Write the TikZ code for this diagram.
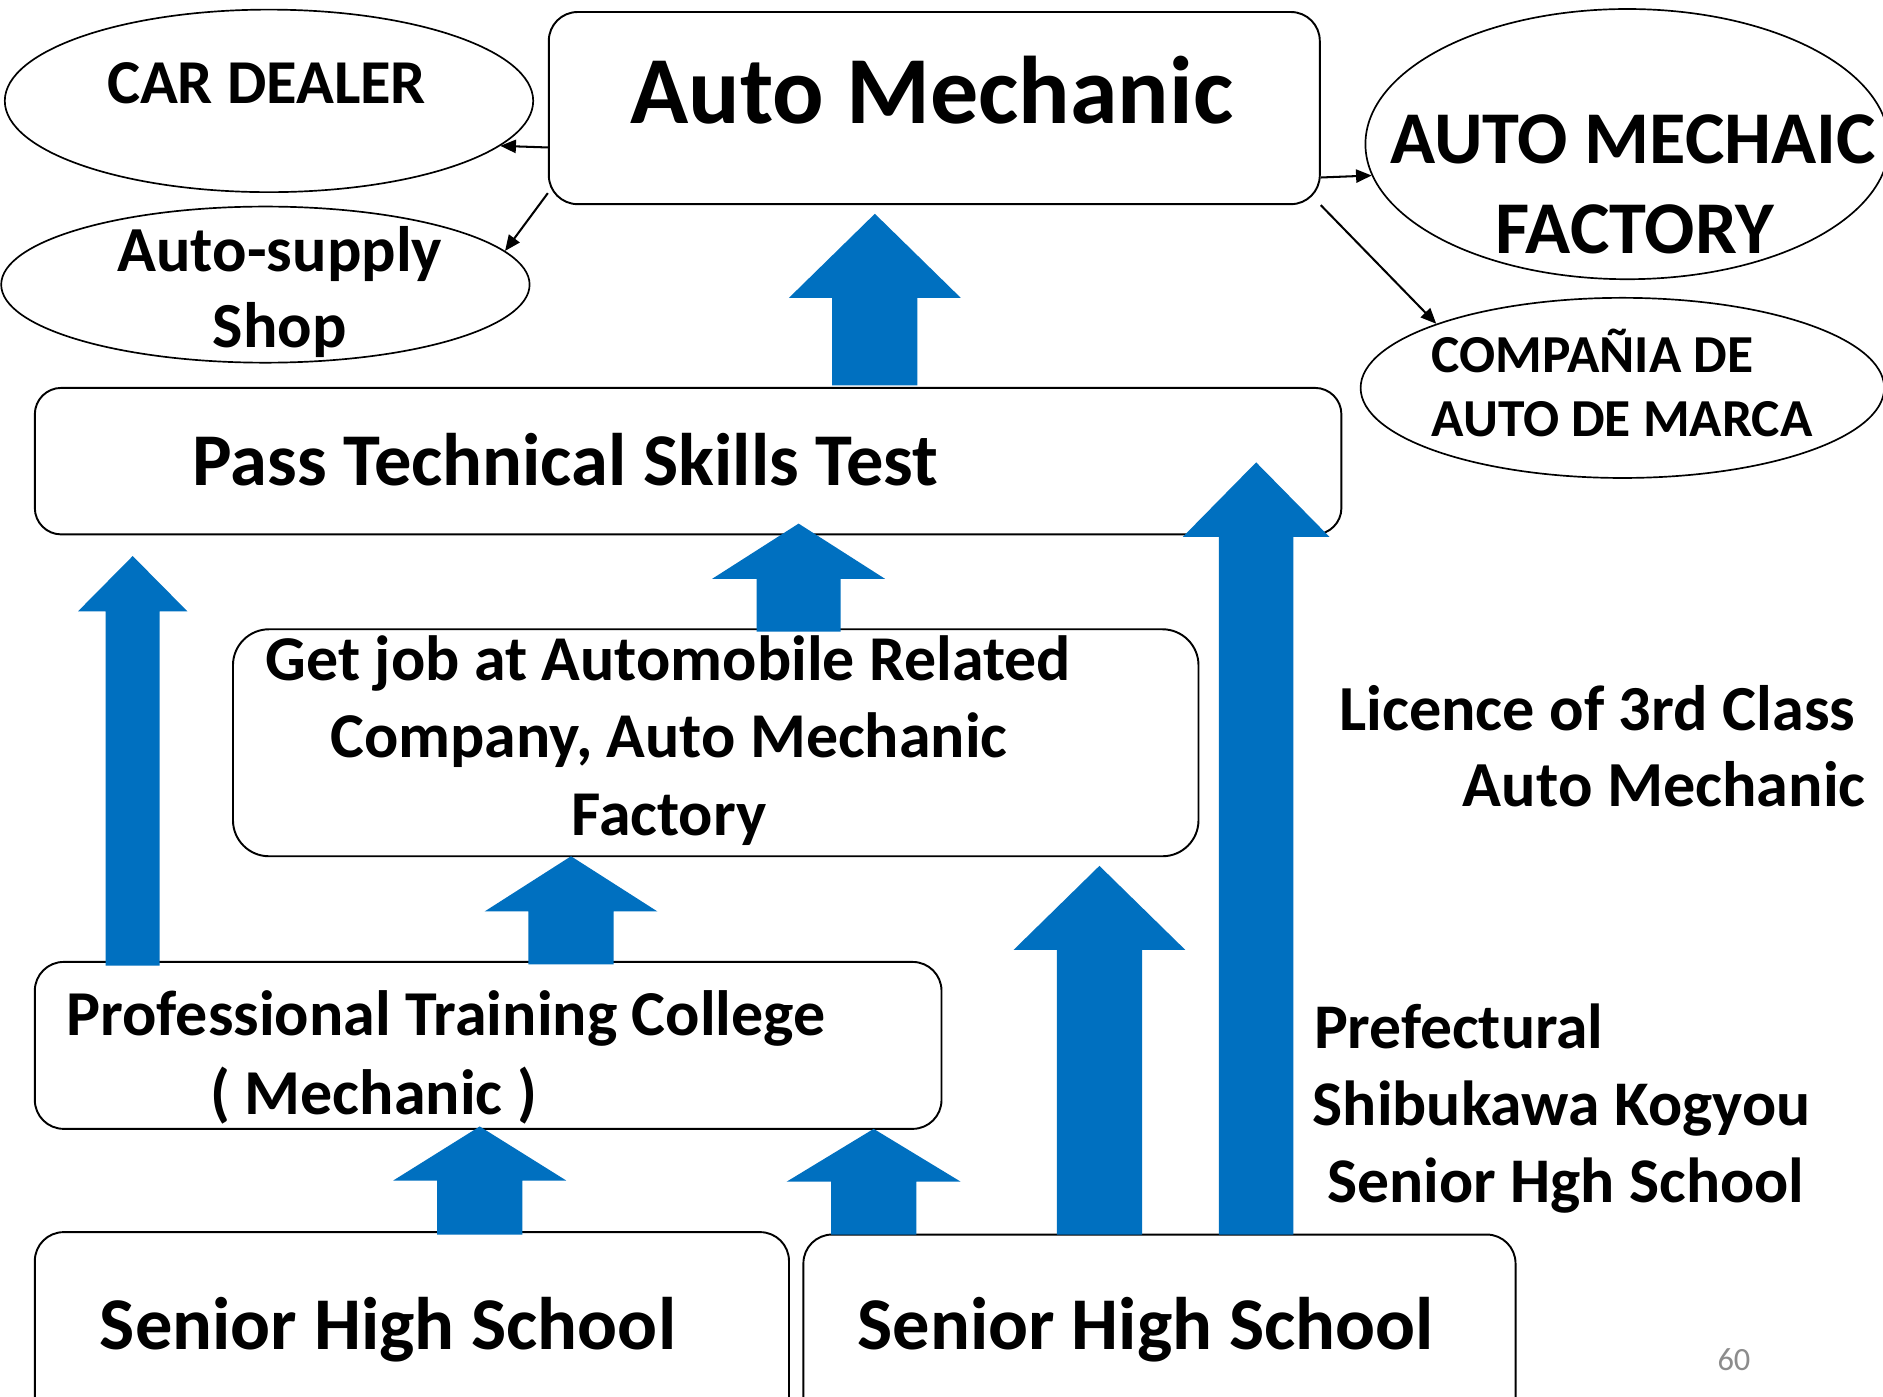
\documentclass[tikz,border=0pt]{standalone}
\usepackage{fontspec}
\setmainfont{Carlito}
\usetikzlibrary{shapes.geometric,arrows.meta,calc}
\definecolor{blockblue}{HTML}{0070C0}
\definecolor{pagegray}{HTML}{8C8C8C}
% cx, ybottom, ytip, shaft half width, head base y, head half width
\newcommand\upblock[6]{%
  \fill[blockblue] (#1-#4,#2) -- (#1-#4,#5) -- (#1-#6,#5) -- (#1,#3)
    -- (#1+#6,#5) -- (#1+#4,#5) -- (#1+#4,#2) -- cycle;}
\begin{document}
\begin{tikzpicture}[x=1pt,y=-1pt,
  box/.style={draw, line width=1.6pt, rounded corners=24pt, inner sep=0pt},
  oval/.style={draw, ellipse, line width=1.4pt, inner sep=0pt},
  conn/.style={line width=1.7pt, -{Triangle[length=13pt,width=11pt]}},
  lbl/.style={inner sep=0pt, font=\bfseries\fontsize{#1}{#1}\selectfont},
]
\clip (0,0) rectangle (1568,1163);
\fill[white] (0,0) rectangle (1568,1163);

% shapes
\node[oval, minimum width=440pt, minimum height=152pt] (cd) at (224,84) {};
\node[oval, minimum width=440pt, minimum height=130pt] (as) at (221,237) {};
\node[box, minimum width=642pt, minimum height=160pt] (am) at (778,90) {};
\node[oval, minimum width=436pt, minimum height=225pt] (fac) at (1355,120) {};
\node[oval, minimum width=436pt, minimum height=150pt] (comp) at (1351,323) {};
\node[box, rounded corners=22pt, minimum width=1088pt, minimum height=122pt] (pass) at (573,384) {};
\node[box, rounded corners=30pt, minimum width=804pt, minimum height=189pt] (job) at (596,618.5) {};
\node[box, minimum width=755pt, minimum height=139pt] (ptc) at (406.5,870.5) {};
\node[box, minimum width=628pt, minimum height=174pt] (shs1) at (343,1113) {};
\node[box, minimum width=593pt, minimum height=172pt] (shs2) at (965.5,1114) {};

% thin connectors
\coordinate (amL) at ($(am.south west)+(0,-48)$);
\coordinate (amLL) at ($(am.south west)+(0,-10)$);
\coordinate (amR) at ($(am.south east)+(0,-23)$);
\coordinate (amRR) at (am.south east);
\draw[conn] (amL) -- (cd.-11.3);
\draw[conn] (amLL) -- (as.8.3);
\draw[conn] (amR) -- (fac.187.2);
\draw[conn] (amRR) -- (comp.161);

% block arrows
\upblock{728.5}{321}{178}{35.5}{248}{71.5}
\upblock{110.5}{804}{463}{22.5}{509}{45.5}
\upblock{665}{526}{436}{35}{482}{72}
\upblock{475.5}{803}{713}{35.5}{759}{72}
\upblock{399.5}{1028}{938}{35.5}{983}{72}
\upblock{727.5}{1028}{940}{35.5}{984}{72.5}
\upblock{915.5}{1028}{721}{35.5}{791}{71.5}
\upblock{1046}{1028}{385}{31}{447}{61}

% texts
\node[lbl=52, anchor=base] (cdT) at (222,86) {CAR DEALER};
\node[lbl=53.5, anchor=base] (asT1) at (233,226) {Auto-supply};
\node[lbl=53.5, anchor=base] (asT2) at (233,289) {Shop};
\node[lbl=80, anchor=base] (amT) at (776,103) {Auto Mechanic};
\node[lbl=62, anchor=base west] (facT1) at (1157.5,136) {AUTO MECHAIC};
\node[lbl=62, anchor=base] (facT2) at (1361.5,211) {FACTORY};
\node[lbl=44.5, anchor=base west] (compT1) at (1192,310) {COMPAÑIA DE};
\node[lbl=44.5, anchor=base west] (compT2) at (1192,363.5) {AUTO DE MARCA};
\node[lbl=62, anchor=base west] (passT) at (160,404) {Pass Technical Skills Test};
\node[lbl=53.2, anchor=base] (jobT1) at (556.5,567) {Get job at Automobile Related};
\node[lbl=53.2, anchor=base] (jobT2) at (557,631) {Company, Auto Mechanic};
\node[lbl=53.2, anchor=base] (jobT3) at (557,696) {Factory};
\node[lbl=53.3, anchor=base west] (ptcT1) at (55,862) {Professional Training College};
\node[lbl=53.3, anchor=base west] (ptcT2) at (175,928) {( Mechanic )};
\node[lbl=62, anchor=base west] (shs1T) at (83,1124) {Senior High School};
\node[lbl=62, anchor=base west] (shs2T) at (714,1124) {Senior High School};
\node[lbl=53.5, anchor=base west] (licT1) at (1115,608.5) {Licence of 3rd Class};
\node[lbl=53.5, anchor=base west] (licT2) at (1218,671.5) {Auto Mechanic};
\node[lbl=53, anchor=base west] (prefT1) at (1094,873) {Prefectural};
\node[lbl=53, anchor=base west] (prefT2) at (1093,937) {Shibukawa Kogyou};
\node[lbl=53, anchor=base west] (prefT3) at (1105,1001) {Senior Hgh School};
\node[inner sep=0pt, anchor=base west, text=pagegray, font=\fontsize{27}{27}\selectfont] (pg) at (1430,1141) {60};
\end{tikzpicture}
\end{document}
